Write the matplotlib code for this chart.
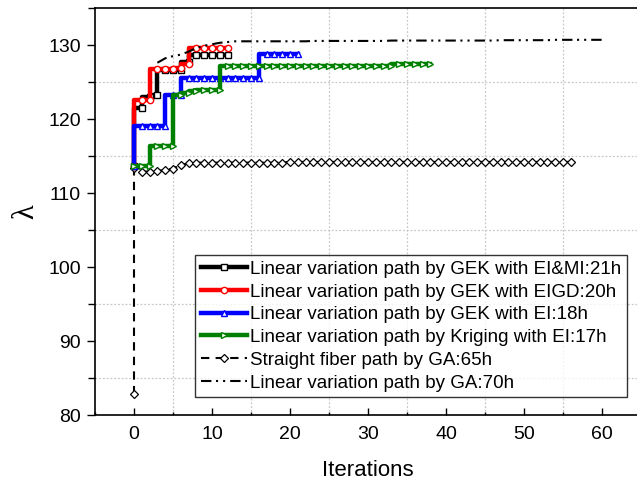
import matplotlib
matplotlib.use("Agg")
import matplotlib.pyplot as plt
from matplotlib.ticker import MultipleLocator

plt.rcParams['font.family'] = ['Liberation Sans', 'DejaVu Sans']

# ---- data -------------------------------------------------------------
iter_emi = list(range(0, 13))
lam_emi = [113.6, 121.5, 123.0, 123.2, 126.6, 126.6, 126.6, 127.7, 128.7,
           128.7, 128.7, 128.7, 128.7]

iter_eigd = list(range(0, 13))
lam_eigd = [113.6, 122.6, 122.6, 126.8, 126.8, 126.8, 126.9, 127.5, 129.6,
            129.6, 129.6, 129.6, 129.6]

iter_ei = list(range(0, 22))
lam_ei = [113.6, 119.0, 119.0, 119.0, 119.0, 123.3, 123.3, 125.5, 125.5,
          125.5, 125.5, 125.5, 125.5, 125.5, 125.5, 125.5, 125.5, 128.85,
          128.85, 128.85, 128.85, 128.85]

iter_krg = list(range(0, 39))
lam_krg = [113.6, 113.6, 113.6, 116.4, 116.4, 116.4, 123.3, 123.5, 123.8,
           123.9, 123.9, 123.9, 127.2, 127.2, 127.2, 127.2, 127.2, 127.2,
           127.2, 127.2, 127.2, 127.2, 127.2, 127.2, 127.2, 127.2, 127.2,
           127.2, 127.2, 127.2, 127.2, 127.2, 127.2, 127.2, 127.45, 127.45,
           127.45, 127.45, 127.45]

iter_straight = [0] + list(range(0, 57))
lam_straight = [82.8, 113.4, 112.9, 112.9, 113.0, 113.1, 113.3, 113.8, 114.0,
                114.1, 114.1, 114.1, 114.1, 114.1, 114.1, 114.1, 114.1, 114.1,
                114.1, 114.1, 114.1, 114.2, 114.2, 114.2, 114.2, 114.2, 114.2,
                114.2, 114.2, 114.2, 114.2, 114.2, 114.2, 114.2, 114.2, 114.2,
                114.2, 114.2, 114.2, 114.2, 114.2, 114.2, 114.2, 114.2, 114.2,
                114.2, 114.2, 114.2, 114.2, 114.2, 114.2, 114.2, 114.2, 114.2,
                114.2, 114.2, 114.2, 114.2]

iter_ga = list(range(3, 61))
lam_ga = [127.6, 128.2, 128.5, 128.7, 129.1, 129.6, 129.9, 130.1, 130.3,
          130.4, 130.5, 130.5, 130.5, 130.5, 130.5, 130.5, 130.5, 130.5,
          130.5, 130.5, 130.55, 130.55, 130.55, 130.55, 130.55, 130.55,
          130.55, 130.55, 130.55, 130.55, 130.6, 130.6, 130.6, 130.6, 130.6,
          130.6, 130.6, 130.6, 130.6, 130.6, 130.6, 130.6, 130.6, 130.6,
          130.65, 130.65, 130.65, 130.65, 130.65, 130.65, 130.65, 130.7,
          130.7, 130.7, 130.7, 130.7, 130.7, 130.7]

labels = [
    "Linear variation path by GEK with EI&MI:21h",
    "Linear variation path by GEK with EIGD:20h",
    "Linear variation path by GEK with EI:18h",
    "Linear variation path by Kriging with EI:17h",
    "Straight fiber path by GA:65h",
    "Linear variation path by GA:70h",
]

# ---- figure -----------------------------------------------------------
fig = plt.figure(figsize=(6.37, 4.90), dpi=100)
ax = fig.add_axes([95 / 637, 75 / 490, 546 / 637, 407 / 490])

step_kw = dict(drawstyle='steps-pre', lw=3.2, ms=4.5, mew=1.0,
               markerfacecolor='white')
ax.plot(iter_emi, lam_emi, color='black', marker='s', label=labels[0], **step_kw)
ax.plot(iter_eigd, lam_eigd, color='red', marker='o', label=labels[1], **step_kw)
ax.plot(iter_ei, lam_ei, color='blue', marker='^', label=labels[2], **step_kw)
ax.plot(iter_krg, lam_krg, color='green', marker='>', label=labels[3], **step_kw)

ax.plot(iter_straight, lam_straight, color='black', lw=1.5,
        linestyle=(0, (4.0, 3.0)), marker='D', ms=4.0, mew=0.9,
        markerfacecolor='white', label=labels[4], zorder=1.9)
ax.plot(iter_ga, lam_ga, color='black', lw=1.5,
        linestyle=(0, (5.0, 2.2, 1.0, 2.4, 1.0, 2.4)), label=labels[5])

ax.set_xlim(-5, 65)
ax.set_ylim(80, 135)
ax.xaxis.set_major_locator(MultipleLocator(10))
ax.xaxis.set_minor_locator(MultipleLocator(5))
ax.yaxis.set_major_locator(MultipleLocator(10))
ax.yaxis.set_minor_locator(MultipleLocator(5))

# grid on the half-way positions only
for v in range(5, 65, 10):
    ax.axvline(v, color='#c8c8c8', lw=0.9, ls=(0, (1.5, 1.5)), zorder=0)
for v in range(85, 135, 10):
    ax.axhline(v, color='#c8c8c8', lw=0.9, ls=(0, (1.5, 1.5)), zorder=0)

ax.tick_params(axis='x', which='major', direction='in', length=5, width=1,
               labelsize=14, pad=8)
ax.tick_params(axis='x', which='minor', direction='in', length=2.5, width=1)
ax.tick_params(axis='y', which='major', direction='out', length=6, width=1,
               labelsize=14, pad=4)
ax.tick_params(axis='y', which='minor', direction='out', length=5, width=1)
ax.spines['right'].set_visible(False)
for s in ('left', 'bottom', 'top'):
    ax.spines[s].set_linewidth(1.2)

ax.set_xlabel('Iterations', fontsize=16, labelpad=12)
ax.set_ylabel('λ', fontsize=22, family=['Liberation Serif', 'DejaVu Serif'],
              labelpad=6)

leg = ax.legend(loc='lower right', bbox_to_anchor=(0.985, 0.03), fontsize=13.5,
                frameon=True, fancybox=False, edgecolor='black',
                handlelength=2.5, handletextpad=0.15, labelspacing=0.3,
                borderpad=0.3, borderaxespad=0.3)
leg.get_frame().set_linewidth(1.0)

fig.savefig('out.png', dpi=100)
